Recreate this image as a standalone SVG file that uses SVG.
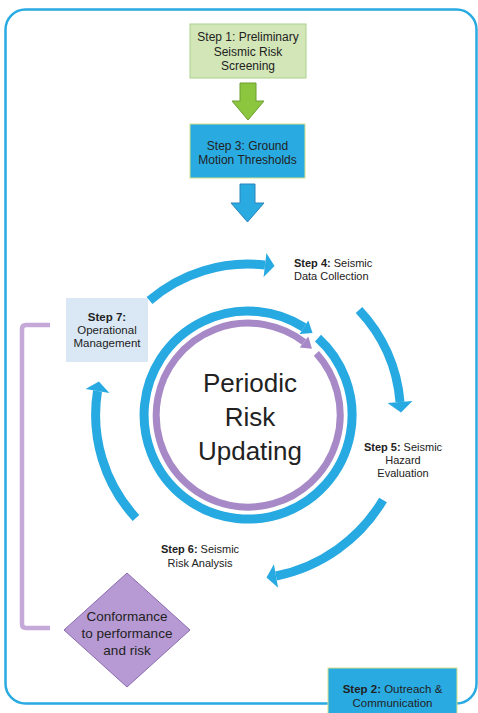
<svg xmlns="http://www.w3.org/2000/svg" width="478" height="713" viewBox="0 0 478 713">
<defs>
<style>
text{font-family:"Liberation Sans",Arial,sans-serif;fill:#222;}
.s11{font-size:11px;}
.s12{font-size:12px;}
.b{font-weight:bold;}
.mid{text-anchor:middle;}
.arc{fill:none;stroke:#27a9e1;stroke-width:9;}
.head{fill:#27a9e1;}
.box{stroke-width:1;}
</style>
</defs>
<rect x="0" y="0" width="478" height="713" fill="#ffffff"/>
<rect id="frame" x="5.5" y="9.5" width="471" height="694" rx="20" fill="none" stroke="#29abe2" stroke-width="2.5"/>

<g id="connectors">
  <polygon points="240,83 256,83 256,101 264,101 248,120 232,101 240,101" fill="#8cc63f" stroke="#6c9e30" stroke-width="1"/>
  <polygon points="240,184 255,184 255,203 264,203 247.5,222 231,203 240,203" fill="#29abe2" stroke="#2b83b9" stroke-width="1"/>
  <path class="arc" d="M149.5,300.5 A151 151 0 0 1 265,265"/>
  <polygon class="head" points="266.4,253.1 274.5,266 263.6,276.9"/>
  <path class="arc" d="M359,310 A152 152 0 0 1 400,402"/>
  <polygon class="head" points="412.5,400.9 401,412.5 387.5,403.1"/>
  <path class="arc" d="M383,500 A162 162 0 0 1 276,576"/>
  <polygon class="head" points="278.1,587.8 266.5,577.6 273.9,564.2"/>
  <path class="arc" d="M136,518 A152 152 0 0 1 97.5,391"/>
  <polygon class="head" points="85.6,389.1 98.9,381.5 109.4,392.9"/>
  <path d="M50,325 H26 Q22,325 22,329 V624 Q22,628 26,628 H50" fill="none" stroke="#c5a9d8" stroke-width="4.5"/>
</g>

<g id="cycle">
  <path d="M318,338.1 A104 104 0 1 1 304,327.4" fill="none" stroke="#27a9e1" stroke-width="9"/>
  <polygon points="299.7,334.1 312.6,333 308.3,320.6" fill="#27a9e1"/>
  <path d="M316.4,353.4 A92 92 0 1 1 304,342" fill="none" stroke="#a689c6" stroke-width="7"/>
  <polygon points="299.7,347.6 312,348.8 308.3,336.5" fill="#a689c6"/>
  <text x="250" y="392" class="mid" style="font-size:26px">Periodic</text>
  <text x="250" y="426" class="mid" style="font-size:26px">Risk</text>
  <text x="250" y="460" class="mid" style="font-size:26px">Updating</text>
</g>

<g id="step1">
  <rect x="190" y="24" width="116" height="54" fill="#d3e6b8" stroke="#a9d18e" class="box"/>
  <text x="248" y="41" class="s12 mid">Step 1: Preliminary</text>
  <text x="248" y="56" class="s12 mid">Seismic Risk</text>
  <text x="248" y="70" class="s12 mid">Screening</text>
</g>

<g id="step3">
  <rect x="190" y="124" width="115" height="54" fill="#29abe2" stroke="#d6df8a" class="box"/>
  <text x="247.5" y="150" class="s12 mid">Step 3: Ground</text>
  <text x="247.5" y="164" class="s12 mid">Motion Thresholds</text>
</g>

<g id="step4">
  <text x="294" y="267" class="s11"><tspan class="b">Step 4:</tspan> Seismic</text>
  <text x="294" y="280" class="s11">Data Collection</text>
</g>

<g id="step5">
  <text x="403" y="451" class="s11 mid"><tspan class="b">Step 5:</tspan> Seismic</text>
  <text x="403" y="464" class="s11 mid">Hazard</text>
  <text x="403" y="477" class="s11 mid">Evaluation</text>
</g>

<g id="step6">
  <text x="200" y="553" class="s11 mid"><tspan class="b">Step 6:</tspan> Seismic</text>
  <text x="200" y="567" class="s11 mid">Risk Analysis</text>
</g>

<g id="step7">
  <rect x="66" y="298" width="82" height="64" fill="#dae8f5"/>
  <text x="107" y="321" class="mid b" style="font-size:11.5px">Step 7:</text>
  <text x="107" y="334" class="mid" style="font-size:11.5px">Operational</text>
  <text x="107" y="347" class="mid" style="font-size:11.5px">Management</text>
</g>

<g id="conformance">
  <polygon points="127,573 190,630 127,687 64,630" fill="#b79ad3" stroke="#8a6cb0" stroke-width="1"/>
  <text x="127" y="621" class="mid" style="font-size:13.5px">Conformance</text>
  <text x="127" y="638" class="mid" style="font-size:13.5px">to performance</text>
  <text x="127" y="655" class="mid" style="font-size:13.5px">and risk</text>
</g>

<g id="step2">
  <rect x="328" y="668" width="129" height="50" fill="#29abe2" stroke="#d6df8a" class="box"/>
  <text x="392.5" y="693" class="mid" style="font-size:11.5px"><tspan class="b">Step 2:</tspan> Outreach &amp;</text>
  <text x="392.5" y="707" class="mid" style="font-size:11.5px">Communication</text>
</g>
</svg>
